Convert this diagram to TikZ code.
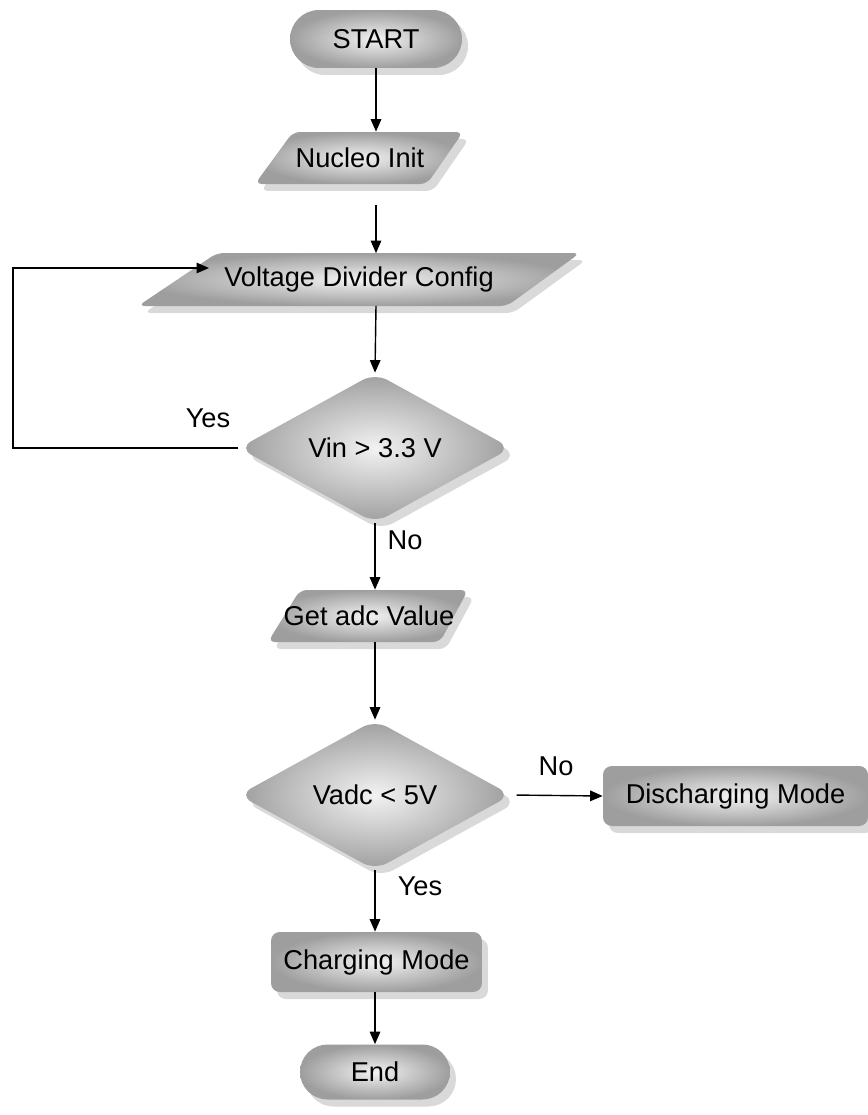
\documentclass[tikz,border=0pt]{standalone}
\usepackage{fontspec}
\setmainfont{Liberation Sans}
\usetikzlibrary{shapes.geometric,shapes.misc,arrows.meta,shadows}
\tikzset{
  shadeit/.style={inner color=black!5, outer color=black!38, draw=none,
    drop shadow={shadow xshift=0.12cm, shadow yshift=-0.14cm, fill=black!15, opacity=1}},
  base/.style={shadeit, text=black, font=\fontsize{15.5}{18}\selectfont, inner sep=0pt},
  term/.style={base, rounded rectangle},
  parashape/.style={shadeit, rounded corners=4pt},
  paratext/.style={rectangle, draw=none, fill=none, text=black, font=\fontsize{15.5}{18}\selectfont, inner sep=0pt, minimum height=1.04cm},
  dec/.style={base, diamond, aspect=1.8, rounded corners=8pt, minimum width=5.45cm, minimum height=3.0cm},
  proc/.style={base, rectangle, rounded corners=5pt, minimum height=1.2cm},
  arr/.style={draw=black, line width=0.8pt, -{Triangle[length=0.25cm, width=0.21cm]}},
  lbl/.style={font=\fontsize{15.5}{18}\selectfont, text=black, inner sep=0pt}
}
\begin{document}
\begin{tikzpicture}[x=0.02cm, y=-0.02cm]
\fill[white] (0,0) rectangle (868,1115);
\useasboundingbox (0,0) rectangle (868,1115);

% parallelogram bodies
\path[parashape] (255,184) -- (293,132) -- (463,132) -- (427,184) -- cycle;
\path[parashape] (138,306) -- (217,253) -- (580,253) -- (507,306) -- cycle;
\path[parashape] (268,642) -- (300,590) -- (468,590) -- (440,642) -- cycle;

\node[term, minimum width=3.44cm, minimum height=1.16cm] (start) at (376,39) {START};
\node[paratext, minimum width=3.4cm] (init) at (360,158) {Nucleo Init};
\node[paratext, minimum width=7.2cm] (vdc) at (359,279.5) {Voltage Divider Config};
\node[dec] (d1) at (375,448) {Vin > 3.3 V};
\node[paratext, minimum width=3.4cm] (adc) at (369,616) {Get adc Value};
\node[dec] (d2) at (375,795) {Vadc < 5V};
\node[proc, minimum width=5.3cm] (dis) at (735.5,796) {Discharging Mode};
\node[proc, minimum width=4.22cm] (chg) at (376.5,962) {Charging Mode};
\node[term, minimum width=3.0cm, minimum height=1.1cm] (end) at (375,1072) {End};

\coordinate (lb) at (13,448);
\coordinate (lt) at (13,268);
\coordinate (lin) at (209,268);

\draw[arr] (start.south) -- (start.south |- init.north);
\draw[arr, shorten <=0.42cm] (start.south |- init.south) -- (start.south |- vdc.north);
\draw[arr] (start.south |- vdc.south) -- (d1.north);
\draw[arr] (d1.west) -- (lb) -- (lt) -- (lin);
\draw[arr] (d1.south) -- (d1.south |- adc.north);
\draw[arr] (d1.south |- adc.south) -- (d2.north);
\draw[arr, shorten <=0.1cm] (d2.east) -- (dis.west);
\draw[arr] (d2.south) -- (d2.south |- chg.north);
\draw[arr] (end.north |- chg.south) -- (end.north);

\node[lbl] (yes1) at (208,418) {Yes};
\node[lbl] (no1) at (405,540) {No};
\node[lbl] (no2) at (556,766) {No};
\node[lbl] (yes2) at (420,886) {Yes};
\end{tikzpicture}
\end{document}
